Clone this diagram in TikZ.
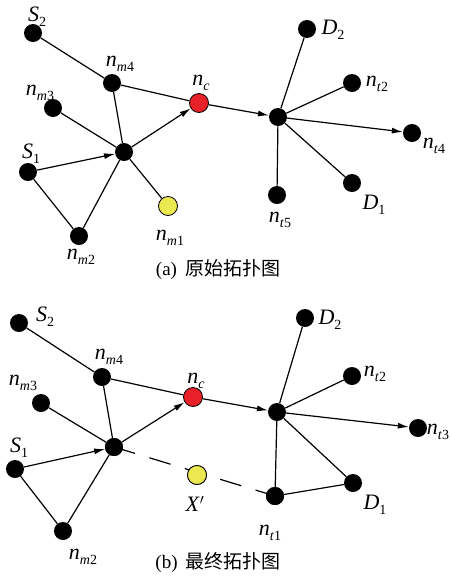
\documentclass[tikz,border=0pt]{standalone}
\usepackage{fontspec}
\setmainfont{Liberation Serif}
\newfontfamily\cjk{Noto Sans CJK SC}
\usetikzlibrary{arrows.meta}
\definecolor{nred}{RGB}{232,32,40}
\definecolor{nyel}{RGB}{236,232,80}
\newcommand\lb[2]{\textit{#1}\raisebox{-5pt}{\fontsize{14}{15}\selectfont #2}}
\begin{document}
\begin{tikzpicture}[x=1pt,y=-1pt,
  dot/.style={circle,fill=black,minimum size=18pt,inner sep=0pt},
  cdot/.style={circle,draw=black,line width=0.8pt,minimum size=19pt,inner sep=0pt},
  lab/.style={font=\fontsize{22}{24}\selectfont,inner sep=0pt},
  captxt/.style={font=\fontsize{19}{22}\selectfont,inner sep=0pt},
  ln/.style={line width=1.2pt},
  arr/.style={line width=1.2pt,-{Latex[length=11pt,width=6pt]}},
  dsh/.style={line width=1.2pt,dash pattern=on 22pt off 15pt}]
\useasboundingbox (0,0) rectangle (450,582);
% ---------- (a) ----------
\node[dot] (aS2) at (33,33) {};
\node[dot] (am4) at (112,83) {};
\node[dot] (am3) at (53,108) {};
\node[cdot,fill=nred] (anc) at (199,103) {};
\node[dot] (ah1) at (124,152) {};
\node[dot] (aS1) at (28,172) {};
\node[dot] (am2) at (79,236) {};
\node[cdot,fill=nyel] (am1) at (168,206) {};
\node[dot] (ah2) at (278,117) {};
\node[dot] (aD2) at (307,29) {};
\node[dot] (at2) at (352,83) {};
\node[dot] (at4) at (412,133) {};
\node[dot] (aD1) at (352,183) {};
\node[dot] (at5) at (277,195) {};
\node[lab] (laS2) at (37,17) {\lb{S}{2}};
\node[lab] (lam4) at (120,64) {\lb{n}{\textit{m}4}};
\node[lab] (lam3) at (40,93) {\lb{n}{\textit{m}3}};
\node[lab] (lanc) at (201,83) {\lb{n}{\textit{c}}};
\node[lab] (laS1) at (31,154) {\lb{S}{1}};
\node[lab] (lam2) at (81,257) {\lb{n}{\textit{m}2}};
\node[lab] (lam1) at (170,238) {\lb{n}{\textit{m}1}};
\node[lab] (laD2) at (333,30) {\lb{D}{2}};
\node[lab] (lat2) at (377,84) {\lb{n}{\textit{t}2}};
\node[lab] (lat4) at (434,146) {\lb{n}{\textit{t}4}};
\node[lab] (laD1) at (374,205) {\lb{D}{1}};
\node[lab] (lat5) at (280,220) {\lb{n}{\textit{t}5}};
\draw[ln] (aS2) -- (am4);
\draw[ln] (am4) -- (anc);
\draw[ln] (am4) -- (ah1);
\draw[ln] (am3) -- (ah1);
\draw[ln] (aS1) -- (am2);
\draw[ln] (am2) -- (ah1);
\draw[ln] (ah1) -- (am1);
\draw[arr] (aS1) -- (ah1);
\draw[arr] (ah1) -- (anc);
\draw[arr] (anc) -- (ah2);
\draw[ln] (ah2) -- (aD2);
\draw[ln] (ah2) -- (at2);
\draw[arr] (ah2) -- (at4);
\draw[ln] (ah2) -- (aD1);
\draw[ln] (ah2) -- (at5);
\node[captxt] (capa) at (218,270) {(a)\hspace{8pt}{\cjk 原始拓扑图}};
% ---------- (b) ----------
\node[dot] (bS2) at (19,323) {};
\node[dot] (bm4) at (102,377) {};
\node[dot] (bm3) at (41,403) {};
\node[cdot,fill=nred] (bnc) at (193,397) {};
\node[dot] (bh1) at (114,447) {};
\node[dot] (bS1) at (15,469) {};
\node[dot] (bm2) at (63,531) {};
\node[cdot,fill=nyel] (bX) at (197,475) {};
\node[dot] (bh2) at (277,412) {};
\node[dot] (bD2) at (305,318) {};
\node[dot] (bt2) at (352,376) {};
\node[dot] (bt3) at (418,428) {};
\node[dot] (bD1) at (353,483) {};
\node[dot] (bt1) at (275,496) {};
\node[lab] (lbS2) at (45,317) {\lb{S}{2}};
\node[lab] (lbm4) at (109,357) {\lb{n}{\textit{m}4}};
\node[lab] (lbm3) at (23,383) {\lb{n}{\textit{m}3}};
\node[lab] (lbnc) at (196,381) {\lb{n}{\textit{c}}};
\node[lab] (lbS1) at (19,448) {\lb{S}{1}};
\node[lab] (lbm2) at (83,557) {\lb{n}{\textit{m}2}};
\node[lab] (lbX) at (195,504) {\textit{X}$'$};
\node[lab] (lbD2) at (330,320) {\lb{D}{2}};
\node[lab] (lbt2) at (375,374) {\lb{n}{\textit{t}2}};
\node[lab] (lbt3) at (438,432) {\lb{n}{\textit{t}3}};
\node[lab] (lbD1) at (375,505) {\lb{D}{1}};
\node[lab] (lbt1) at (270,533) {\lb{n}{\textit{t}1}};
\draw[ln] (bS2) -- (bm4);
\draw[ln] (bm4) -- (bnc);
\draw[ln] (bm4) -- (bh1);
\draw[ln] (bm3) -- (bh1);
\draw[ln] (bS1) -- (bm2);
\draw[ln] (bm2) -- (bh1);
\draw[arr] (bS1) -- (bh1);
\draw[arr] (bh1) -- (bnc);
\draw[arr] (bnc) -- (bh2);
\draw[dsh] (bh1.center) -- (bt1.center);
\node[cdot,fill=nyel] at (bX) {};
\node[dot] at (bh1) {};
\node[dot] at (bt1) {};
\draw[ln] (bh2) -- (bD2);
\draw[ln] (bh2) -- (bt2);
\draw[arr] (bh2) -- (bt3);
\draw[ln] (bh2) -- (bD1);
\draw[ln] (bh2) -- (bt1);
\draw[ln] (bt1) -- (bD1);
\node[captxt] (capb) at (218,563) {(b)\hspace{8pt}{\cjk 最终拓扑图}};
\end{tikzpicture}
\end{document}
